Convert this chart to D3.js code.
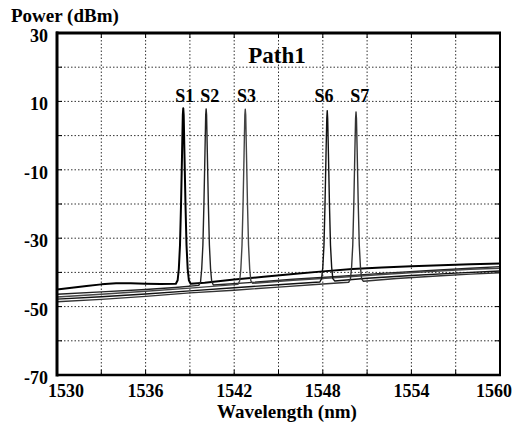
<!DOCTYPE html>
<html>
<head>
<meta charset="utf-8">
<script src="https://cdn.jsdelivr.net/npm/d3@7"></script>
<style>
  body { margin: 0; background: #fff; }
  text { font-family: "Liberation Serif", "Times New Roman", serif; font-weight: bold; fill: #000; }
</style>
</head>
<body>
<div id="chart"></div>
<script>
// chart values
const xTicks = [1530, 1536, 1542, 1548, 1554, 1560];
const xGrid = [1533, 1536, 1539, 1542, 1545, 1548, 1551, 1554, 1557];
const yTicks = [30, 10, -10, -30, -50, -70];
const yGrid = [20, 10, 0, -10, -20, -30, -40, -50, -60];

// one trace per channel: [wavelength nm, power dBm]
const traceS1 = [[1530,-45.0],[1531,-44.5],[1532,-44.0],[1533,-43.5],[1534,-43.2],[1535,-43.2],[1536,-43.3],[1537,-43.4],[1538.05,-43.3],
  [1538.17,-42.3],[1538.25,-39],[1538.33,-32],[1538.4,-20],[1538.47,-5],[1538.52,6],[1538.55,8.0],[1538.58,6],[1538.63,-5],[1538.7,-20],[1538.77,-32],[1538.85,-39],[1538.93,-42.3],
  [1539.05,-43.3],[1540,-43.0],[1542,-42.1],[1544,-41.3],[1546,-40.5],[1548,-39.7],[1550,-39.0],[1552,-38.6],[1554,-38.2],[1556,-37.9],[1558,-37.6],[1560,-37.4]];
const traceS2 = [[1530,-46.4],[1533,-45.7],[1536,-45.0],[1538,-44.4],[1539.6,-43.8],
  [1539.72,-42.8],[1539.8,-39],[1539.88,-32],[1539.95,-20],[1540.02,-5],[1540.07,6],[1540.1,7.8],[1540.13,6],[1540.18,-5],[1540.25,-20],[1540.32,-32],[1540.4,-39],[1540.48,-42.8],
  [1540.6,-43.7],[1543,-43.0],[1546,-42.0],[1549,-41.2],[1552,-40.3],[1555,-39.5],[1558,-38.8],[1560,-38.3]];
const traceS3 = [[1530,-47.2],[1533,-46.4],[1536,-45.5],[1539,-44.6],[1542.25,-43.5],
  [1542.37,-42.5],[1542.45,-39],[1542.53,-32],[1542.6,-20],[1542.67,-5],[1542.72,6],[1542.75,7.7],[1542.78,6],[1542.83,-5],[1542.9,-20],[1542.97,-32],[1543.05,-39],[1543.13,-42.5],
  [1543.25,-43.2],[1546,-42.3],[1549,-41.5],[1552,-40.6],[1555,-39.8],[1558,-39.1],[1560,-38.8]];
const traceS6 = [[1530,-47.8],[1533,-47.1],[1536,-46.3],[1539,-45.4],[1542,-44.5],[1545,-43.6],[1547.8,-42.8],
  [1547.92,-41.8],[1548,-38.5],[1548.08,-32],[1548.15,-20],[1548.22,-5],[1548.27,5],[1548.3,7.3],[1548.33,5],[1548.38,-5],[1548.45,-20],[1548.52,-32],[1548.6,-38.5],[1548.68,-41.8],
  [1548.8,-42.5],[1551,-41.7],[1554,-40.9],[1557,-40.2],[1560,-39.6]];
const traceS7 = [[1530,-48.6],[1533,-47.9],[1536,-47.0],[1539,-46.0],[1542,-45.2],[1545,-44.3],[1548,-43.4],[1549.75,-42.9],
  [1549.87,-41.9],[1549.95,-38.5],[1550.03,-32],[1550.1,-20],[1550.17,-5],[1550.22,5],[1550.25,6.9],[1550.28,5],[1550.33,-5],[1550.4,-20],[1550.47,-32],[1550.55,-38.5],[1550.63,-41.9],
  [1550.75,-42.6],[1553,-41.8],[1556,-41.0],[1558,-40.5],[1560,-40.1]];

const channelNames = ["S1", "S2", "S3", "S6", "S7"];
const labelPos = [1538.65, 1540.34, 1542.84, 1548.09, 1550.51];

const width = 514, height = 424;
const margin = {top: 33, right: 14, bottom: 49, left: 57};

const svg = d3.select("#chart")
  .append("svg")
    .attr("width", width)
    .attr("height", height);

const x = d3.scaleLinear()
    .domain([1530, 1560])
    .range([margin.left, width - margin.right]);
const y = d3.scaleLinear()
    .domain([-70, 30])
    .range([height - margin.bottom, margin.top]);

// dotted grid
svg.append("g")
  .selectAll("line")
  .data(xGrid)
  .join("line")
    .attr("x1", d => x(d)).attr("x2", d => x(d))
    .attr("y1", y(30)).attr("y2", y(-70))
    .attr("stroke", "#333")
    .attr("stroke-width", 1)
    .attr("stroke-dasharray", "1.5,2");
svg.append("g")
  .selectAll("line")
  .data(yGrid)
  .join("line")
    .attr("x1", x(1530)).attr("x2", x(1560))
    .attr("y1", d => y(d)).attr("y2", d => y(d))
    .attr("stroke", "#333")
    .attr("stroke-width", 1)
    .attr("stroke-dasharray", "1.5,2");

// small inward ticks on every side
const tickLen = 5;
const ticks = svg.append("g").attr("stroke", "#000").attr("stroke-width", 1);
xGrid.forEach(d => {
  ticks.append("line").attr("x1", x(d)).attr("x2", x(d)).attr("y1", y(-70)).attr("y2", y(-70) - tickLen);
  ticks.append("line").attr("x1", x(d)).attr("x2", x(d)).attr("y1", y(30)).attr("y2", y(30) + tickLen);
});
yGrid.forEach(d => {
  ticks.append("line").attr("x1", x(1530)).attr("x2", x(1530) + tickLen).attr("y1", y(d)).attr("y2", y(d));
  ticks.append("line").attr("x1", x(1560)).attr("x2", x(1560) - tickLen).attr("y1", y(d)).attr("y2", y(d));
});

// traces
const line = d3.line()
    .x(d => x(d[0]))
    .y(d => y(d[1]));

const traces = [
  {data: traceS1, color: "#000", w: 2},
  {data: traceS2, color: "#222", w: 1.4},
  {data: traceS3, color: "#444", w: 1.4},
  {data: traceS6, color: "#111", w: 1.4},
  {data: traceS7, color: "#333", w: 1.4}
];
svg.append("g")
  .selectAll("path")
  .data(traces)
  .join("path")
    .attr("d", d => line(d.data))
    .attr("fill", "none")
    .attr("stroke", d => d.color)
    .attr("stroke-width", d => d.w)
    .attr("stroke-linejoin", "round");

// frame
svg.append("line").attr("x1", x(1530) - 1).attr("x2", x(1560) + 1).attr("y1", y(30)).attr("y2", y(30))
  .attr("stroke", "#000").attr("stroke-width", 3);
svg.append("line").attr("x1", x(1530)).attr("x2", x(1530)).attr("y1", y(30) - 1.5).attr("y2", y(-70) + 1.5)
  .attr("stroke", "#000").attr("stroke-width", 3);
svg.append("line").attr("x1", x(1530)).attr("x2", x(1560) + 1).attr("y1", y(-70)).attr("y2", y(-70))
  .attr("stroke", "#000").attr("stroke-width", 2.5);
svg.append("line").attr("x1", x(1560)).attr("x2", x(1560)).attr("y1", y(30)).attr("y2", y(-70))
  .attr("stroke", "#000").attr("stroke-width", 2);

// tick labels
svg.append("g")
  .selectAll("text")
  .data(yTicks)
  .join("text")
    .attr("x", 48)
    .attr("y", d => y(d) + 9)
    .attr("text-anchor", "end")
    .style("font-size", "18px")
    .text(d => d);
// end labels are nudged inward as in the original
svg.append("g")
  .selectAll("text")
  .data(xTicks)
  .join("text")
    .attr("x", (d, i) => i === 0 ? 48 : i === xTicks.length - 1 ? 512 : x(d))
    .attr("y", 397)
    .attr("text-anchor", (d, i) => i === 0 ? "start" : i === xTicks.length - 1 ? "end" : "middle")
    .style("font-size", "18px")
    .text(d => d);

// channel labels
svg.append("g")
  .selectAll("text")
  .data(channelNames)
  .join("text")
    .attr("x", (d, i) => x(labelPos[i]))
    .attr("y", 102)
    .attr("text-anchor", "middle")
    .style("font-size", "18px")
    .text(d => d);

// titles
svg.append("text")
    .attr("x", 11)
    .attr("y", 22)
    .style("font-size", "19px")
    .text("Power (dBm)");
svg.append("text")
    .attr("x", 277)
    .attr("y", 63)
    .attr("text-anchor", "middle")
    .style("font-size", "23px")
    .text("Path1");
svg.append("text")
    .attr("x", 287)
    .attr("y", 418)
    .attr("text-anchor", "middle")
    .style("font-size", "19px")
    .text("Wavelength (nm)");
</script>
</body>
</html>
